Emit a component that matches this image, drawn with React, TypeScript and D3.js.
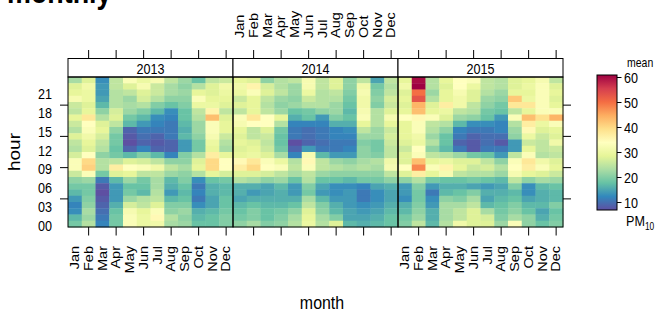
import * as d3 from "d3";

const MONTHS = ["Jan", "Feb", "Mar", "Apr", "May", "Jun", "Jul", "Aug", "Sep", "Oct", "Nov", "Dec"];
const YEARS = ["2013", "2014", "2015"];
const HOURS = [0, 1, 2, 3, 4, 5, 6, 7, 8, 9, 10, 11, 12, 13, 14, 15, 16, 17, 18, 19, 20, 21, 22, 23];
const HOUR_LABELS = [0, 3, 6, 9, 12, 15, 18, 21];
const HOUR_TICKS = [4, 9, 14, 19];
const MONTH_TICKS = ["Feb", "Apr", "Jun", "Aug", "Oct", "Dec"];
const KEY_TICKS = [10, 20, 30, 40, 50, 60];
// brewer Spectral, low -> high
const PALETTE = ["#5E4FA2", "#3288BD", "#66C2A5", "#ABDDA4", "#E6F598", "#FFFFBF", "#FEE08B", "#FDAE61", "#F46D43", "#D53E4F", "#9E0142"];

// mean PM10, rows from hour 23 (top) down to hour 0, columns Jan..Dec
const pm2013 = [
  [23, 28, 13, 25, 33, 30, 32, 25, 22, 18, 25, 26],
  [28, 31, 14, 25, 28, 32, 26, 23, 21, 24, 28, 31],
  [29, 30, 14, 24, 25, 28, 26, 23, 22, 29, 28, 30],
  [32, 30, 15, 24, 22, 27, 24, 21, 21, 33, 29, 29],
  [26, 28, 17, 24, 23, 24, 20, 18, 20, 30, 30, 28],
  [25, 29, 21, 27, 22, 20, 17, 13, 18, 25, 36, 25],
  [29, 38, 24, 28, 19, 17, 13, 12, 18, 24, 43, 28],
  [26, 34, 28, 25, 17, 14, 12, 11, 17, 22, 33, 29],
  [24, 33, 29, 21, 9, 11, 11, 11, 16, 22, 33, 29],
  [28, 31, 27, 19, 8, 10, 9, 11, 17, 21, 32, 26],
  [25, 29, 25, 19, 7, 9, 8, 9, 14, 19, 30, 24],
  [24, 28, 24, 18, 9, 12, 9, 9, 14, 19, 29, 23],
  [27, 34, 21, 19, 17, 20, 17, 12, 20, 24, 37, 29],
  [33, 40, 24, 25, 28, 27, 25, 21, 21, 28, 40, 34],
  [33, 41, 24, 37, 34, 33, 31, 25, 23, 29, 40, 34],
  [26, 33, 19, 28, 29, 25, 25, 22, 21, 24, 29, 27],
  [21, 22, 11, 17, 22, 19, 23, 17, 20, 13, 18, 19],
  [19, 19, 8, 14, 18, 18, 23, 16, 18, 11, 16, 17],
  [17, 19, 7, 14, 19, 17, 24, 14, 17, 12, 16, 17],
  [14, 20, 8, 14, 22, 24, 25, 17, 18, 11, 15, 18],
  [12, 21, 9, 16, 27, 25, 28, 20, 20, 13, 15, 18],
  [13, 23, 10, 18, 32, 29, 33, 21, 22, 16, 17, 19],
  [17, 22, 11, 19, 33, 30, 35, 24, 21, 17, 18, 20],
  [19, 24, 12, 19, 33, 30, 31, 23, 22, 18, 18, 20],
];

const pm2014 = [
  [29, 28, 21, 24, 25, 32, 25, 28, 21, 25, 15, 25],
  [31, 36, 27, 24, 22, 32, 25, 28, 21, 31, 19, 24],
  [30, 33, 28, 25, 22, 30, 24, 25, 20, 32, 20, 25],
  [26, 29, 25, 22, 21, 26, 24, 24, 19, 31, 21, 27],
  [28, 29, 24, 21, 22, 24, 24, 22, 18, 31, 20, 26],
  [25, 29, 25, 22, 18, 19, 21, 22, 17, 32, 24, 28],
  [33, 38, 34, 29, 16, 18, 14, 20, 18, 33, 24, 32],
  [32, 34, 34, 24, 12, 12, 12, 16, 16, 29, 24, 29],
  [29, 25, 28, 19, 11, 10, 11, 12, 13, 25, 22, 26],
  [28, 25, 26, 18, 11, 10, 11, 12, 12, 22, 22, 27],
  [29, 28, 25, 18, 7, 9, 10, 11, 11, 20, 19, 26],
  [28, 29, 26, 19, 9, 14, 11, 11, 12, 21, 19, 25],
  [29, 30, 28, 23, 12, 32, 17, 14, 14, 21, 20, 25],
  [35, 38, 33, 30, 24, 35, 25, 22, 21, 23, 24, 31],
  [37, 40, 34, 33, 25, 33, 25, 24, 23, 24, 23, 32],
  [28, 28, 27, 25, 23, 25, 22, 21, 21, 21, 21, 25],
  [24, 23, 21, 22, 18, 24, 18, 18, 17, 19, 19, 21],
  [16, 16, 15, 17, 14, 20, 15, 13, 13, 12, 15, 16],
  [16, 14, 15, 16, 14, 19, 14, 13, 14, 11, 13, 15],
  [15, 16, 16, 16, 16, 23, 17, 14, 14, 11, 13, 15],
  [17, 18, 17, 17, 18, 25, 20, 16, 14, 13, 14, 16],
  [18, 20, 18, 19, 21, 28, 21, 17, 15, 14, 15, 17],
  [19, 20, 18, 20, 23, 29, 23, 20, 15, 15, 16, 18],
  [21, 23, 20, 21, 24, 30, 24, 28, 17, 16, 17, 18],
];

const pm2015 = [
  [29, 60, 24, 29, 34, 33, 25, 24, 28, 29, 32, 25],
  [31, 61, 24, 28, 34, 30, 25, 24, 28, 30, 33, 28],
  [28, 50, 22, 29, 32, 28, 24, 22, 29, 29, 33, 29],
  [29, 53, 24, 29, 31, 28, 22, 21, 42, 30, 33, 28],
  [28, 44, 28, 37, 31, 25, 21, 19, 38, 38, 33, 29],
  [29, 43, 29, 30, 25, 24, 19, 18, 25, 29, 33, 33],
  [34, 35, 33, 28, 22, 21, 18, 14, 33, 43, 39, 44],
  [29, 33, 25, 24, 17, 13, 13, 12, 24, 37, 30, 33],
  [29, 33, 24, 21, 12, 11, 11, 12, 22, 35, 28, 29],
  [29, 31, 22, 18, 11, 9, 10, 10, 21, 30, 26, 28],
  [28, 30, 24, 18, 9, 8, 10, 8, 14, 26, 25, 31],
  [26, 34, 21, 17, 11, 8, 11, 11, 14, 29, 25, 26],
  [28, 33, 25, 24, 22, 19, 18, 14, 25, 33, 24, 25],
  [28, 43, 29, 30, 28, 28, 25, 21, 33, 38, 31, 28],
  [34, 48, 33, 36, 29, 26, 27, 24, 34, 37, 33, 29],
  [28, 37, 29, 32, 25, 24, 24, 22, 32, 29, 28, 26],
  [21, 24, 19, 18, 18, 19, 18, 17, 25, 21, 23, 22],
  [14, 20, 14, 16, 16, 15, 14, 15, 20, 13, 17, 18],
  [14, 19, 11, 17, 18, 20, 16, 16, 17, 13, 16, 17],
  [13, 19, 13, 21, 20, 23, 15, 17, 18, 15, 16, 17],
  [16, 20, 14, 23, 23, 25, 17, 18, 20, 17, 17, 20],
  [17, 21, 16, 23, 25, 28, 23, 19, 21, 18, 15, 18],
  [19, 22, 16, 23, 25, 28, 27, 20, 23, 21, 16, 19],
  [20, 25, 17, 24, 31, 28, 28, 22, 33, 21, 18, 20],
];

const SERIES = [pm2013, pm2014, pm2015];

const W = 663;
const H = 312;
const SX = 0.84; // the reference is squeezed horizontally
const FONT = "'Liberation Sans', Arial, Helvetica, sans-serif";

type TProps = {
  x: number;
  y: number;
  size: number;
  anchor?: string;
  rot?: boolean;
  dy?: string;
  weight?: string;
  children: React.ReactNode;
};

function T({ x, y, size, anchor = "start", rot = false, dy = "0.35em", weight, children }: TProps) {
  return (
    <text
      transform={`translate(${x},${y}) scale(${SX},1)${rot ? " rotate(-90)" : ""}`}
      textAnchor={anchor}
      dy={dy}
      fontSize={size}
      fontWeight={weight}
      fill="#000"
    >
      {children}
    </text>
  );
}

export default function App() {
  const panelX = d3.scaleBand<string>().domain(YEARS).range([68, 563]);
  const monthX = d3.scaleBand<string>().domain(MONTHS).range([0, panelX.bandwidth()]);
  const hourY = d3.scaleBand<number>().domain(HOURS).range([227, 77]);

  const all = SERIES.flat(2);
  const [lo, hi] = d3.extent(all) as [number, number];
  const color = d3
    .scaleLinear<string>()
    .domain(PALETTE.map((_, i) => lo + (i * (hi - lo)) / (PALETTE.length - 1)))
    .range(PALETTE)
    .interpolate(d3.interpolateRgb);

  const keyY = d3.scaleLinear().domain([lo, hi]).range([210, 75]);

  const stripTop = 58.5;
  const plotTop = 77;
  const plotBottom = 227;
  const mc = (year: string, m: string) => (panelX(year) as number) + (monthX(m) as number) + monthX.bandwidth() / 2;
  const hc = (h: number) => (hourY(h) as number) + hourY.bandwidth() / 2;

  return (
    <svg
      width={W}
      height={H}
      style={{ position: "absolute", left: 0, top: 0, background: "#fff" }}
      fontFamily={FONT}
    >
      <defs>
        <linearGradient id="key" x1="0" y1="1" x2="0" y2="0">
          {PALETTE.map((c, i) => (
            <stop key={i} offset={i / (PALETTE.length - 1)} stopColor={c} />
          ))}
        </linearGradient>
      </defs>

      {/* title, mostly cut off by the top edge */}
      <T x={7} y={3} size={32} dy="0" weight="bold">
        monthly
      </T>

      {/* heat cells */}
      {YEARS.map((yr, p) =>
        SERIES[p].map((row, r) =>
          row.map((v, m) => (
            <rect
              key={`${yr}-${r}-${m}`}
              x={(panelX(yr) as number) + (monthX(MONTHS[m]) as number)}
              y={hourY(23 - r) as number}
              width={monthX.bandwidth() + 0.4}
              height={hourY.bandwidth() + 0.4}
              fill={color(v)}
            />
          ))
        )
      )}

      {/* strips and panel borders */}
      {YEARS.map((yr) => {
        const px = panelX(yr) as number;
        return (
          <g key={yr}>
            <rect x={px} y={stripTop} width={panelX.bandwidth()} height={plotTop - stripTop} fill="#fff" stroke="#000" />
            <rect x={px} y={plotTop} width={panelX.bandwidth()} height={plotBottom - plotTop} fill="none" stroke="#000" />
            <T x={px + panelX.bandwidth() / 2} y={(stripTop + plotTop) / 2 + 0.5} size={15} anchor="middle">
              {yr}
            </T>
            {MONTH_TICKS.map((m) => (
              <g key={m}>
                <line x1={mc(yr, m)} x2={mc(yr, m)} y1={stripTop} y2={stripTop - 8.5} stroke="#000" />
                <line x1={mc(yr, m)} x2={mc(yr, m)} y1={plotBottom} y2={plotBottom + 8.5} stroke="#000" />
              </g>
            ))}
          </g>
        );
      })}

      {/* month labels: top on the middle panel, bottom on the outer ones */}
      {MONTHS.map((m) => (
        <T key={`t${m}`} x={mc("2014", m)} y={38} size={14.5} rot>
          {m}
        </T>
      ))}
      {["2013", "2015"].map((yr) =>
        MONTHS.map((m) => (
          <T key={`b${yr}${m}`} x={mc(yr, m)} y={246} size={14.5} rot anchor="end">
            {m}
          </T>
        ))
      )}

      {/* hour axis */}
      {HOUR_TICKS.map((h) => (
        <g key={h}>
          <line x1={60} x2={68} y1={hc(h)} y2={hc(h)} stroke="#000" />
          <line x1={563} x2={571} y1={hc(h)} y2={hc(h)} stroke="#000" />
        </g>
      ))}
      {HOUR_LABELS.map((h) => (
        <T key={h} x={52} y={hc(h) + 1.5} size={15} anchor="end">
          {String(h).padStart(2, "0")}
        </T>
      ))}

      <T x={14} y={152} size={19} anchor="middle" rot>
        hour
      </T>
      <T x={322} y={302} size={19} anchor="middle">
        month
      </T>

      {/* colour key */}
      <rect x={597} y={75} width={20} height={135} fill="url(#key)" stroke="#000" />
      {KEY_TICKS.map((t) => (
        <g key={t}>
          <line x1={617} x2={621.5} y1={keyY(t)} y2={keyY(t)} stroke="#000" />
          <T x={624} y={keyY(t)} size={15}>
            {t}
          </T>
        </g>
      ))}
      <T x={627} y={63} size={12.5}>
        mean
      </T>
      <text transform={`translate(626,221) scale(${SX},1)`} fontSize={15} dy="0.35em">
        PM
        <tspan fontSize={10} dy="4">
          10
        </tspan>
      </text>
    </svg>
  );
}
